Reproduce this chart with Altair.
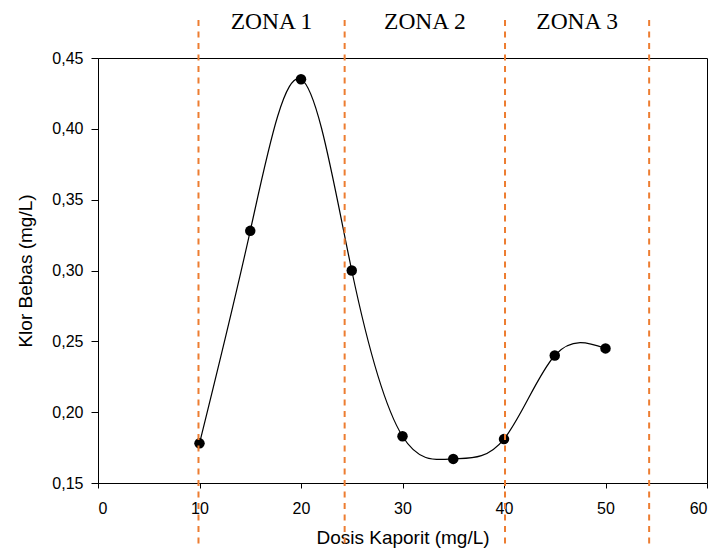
import altair as alt
import pandas as pd

# Measured free chlorine against chlorine dose
dosis = [10, 15, 20, 25, 30, 35, 40, 45, 50]
klor_bebas = [0.178, 0.328, 0.435, 0.300, 0.183, 0.167, 0.181, 0.240, 0.245]

# Zone boundaries on the dose axis and their names
batas_zona = [9.9, 24.3, 40.1, 54.3]
nama_zona = ["ZONA 1", "ZONA 2", "ZONA 3"]

data = pd.DataFrame({"dosis": dosis, "klor": klor_bebas})
batas = pd.DataFrame({"x": batas_zona})
zona = pd.DataFrame({
    "nama": nama_zona,
    "tengah": [(a + b) / 2 for a, b in zip(batas_zona[:-1], batas_zona[1:])],
})

x_scale = alt.Scale(domain=[0, 60], nice=False, zero=False)
y_scale = alt.Scale(domain=[0.15, 0.45], nice=False, zero=False)

x_enc = alt.X(
    "dosis:Q",
    scale=x_scale,
    title="Dosis Kaporit (mg/L)",
    axis=alt.Axis(values=[0, 10, 20, 30, 40, 50, 60], format="d",
                  tickSize=5, labelPadding=12, titlePadding=12),
)
y_enc = alt.Y(
    "klor:Q",
    scale=y_scale,
    title="Klor Bebas (mg/L)",
    axis=alt.Axis(values=[0.15, 0.20, 0.25, 0.30, 0.35, 0.40, 0.45],
                  labelExpr="replace(format(datum.value, '.2f'), '.', ',')",
                  tickSize=7, labelPadding=8, titlePadding=16),
)

kurva = alt.Chart(data).mark_line(
    interpolate="natural", color="black", strokeWidth=1.2
).encode(x=x_enc, y=y_enc)

titik = alt.Chart(data).mark_circle(
    color="black", size=110, opacity=1
).encode(x="dosis:Q", y="klor:Q")

garis_zona = alt.Chart(batas).mark_rule(
    color="#ED7D31", strokeWidth=2, strokeDash=[6, 5.5]
).encode(
    x=alt.X("x:Q", scale=x_scale),
    y=alt.value(-38),
    y2=alt.value(488),
)

label_zona = alt.Chart(zona).mark_text(
    font="Liberation Serif", fontSize=23.5, color="black",
    baseline="alphabetic", align="center",
).encode(
    x=alt.X("tengah:Q", scale=x_scale),
    y=alt.value(-29),
    text="nama:N",
)

chart = alt.layer(kurva, titik, label_zona, garis_zona).properties(
    width=609,
    height=425,
    autosize=alt.AutoSizeParams(type="none"),
    padding={"left": 98, "top": 58, "right": 11, "bottom": 73},
    background="white",
).configure_view(
    stroke="black", strokeWidth=1
).configure_axis(
    grid=False,
    domainColor="black",
    tickColor="black",
    labelColor="black",
    titleColor="black",
    labelFont="Liberation Sans",
    titleFont="Liberation Sans",
    labelFontSize=16,
    titleFontSize=19,
    titleFontWeight="normal",
)

chart.save("out.html", embed_options={"renderer": "svg", "actions": False})
